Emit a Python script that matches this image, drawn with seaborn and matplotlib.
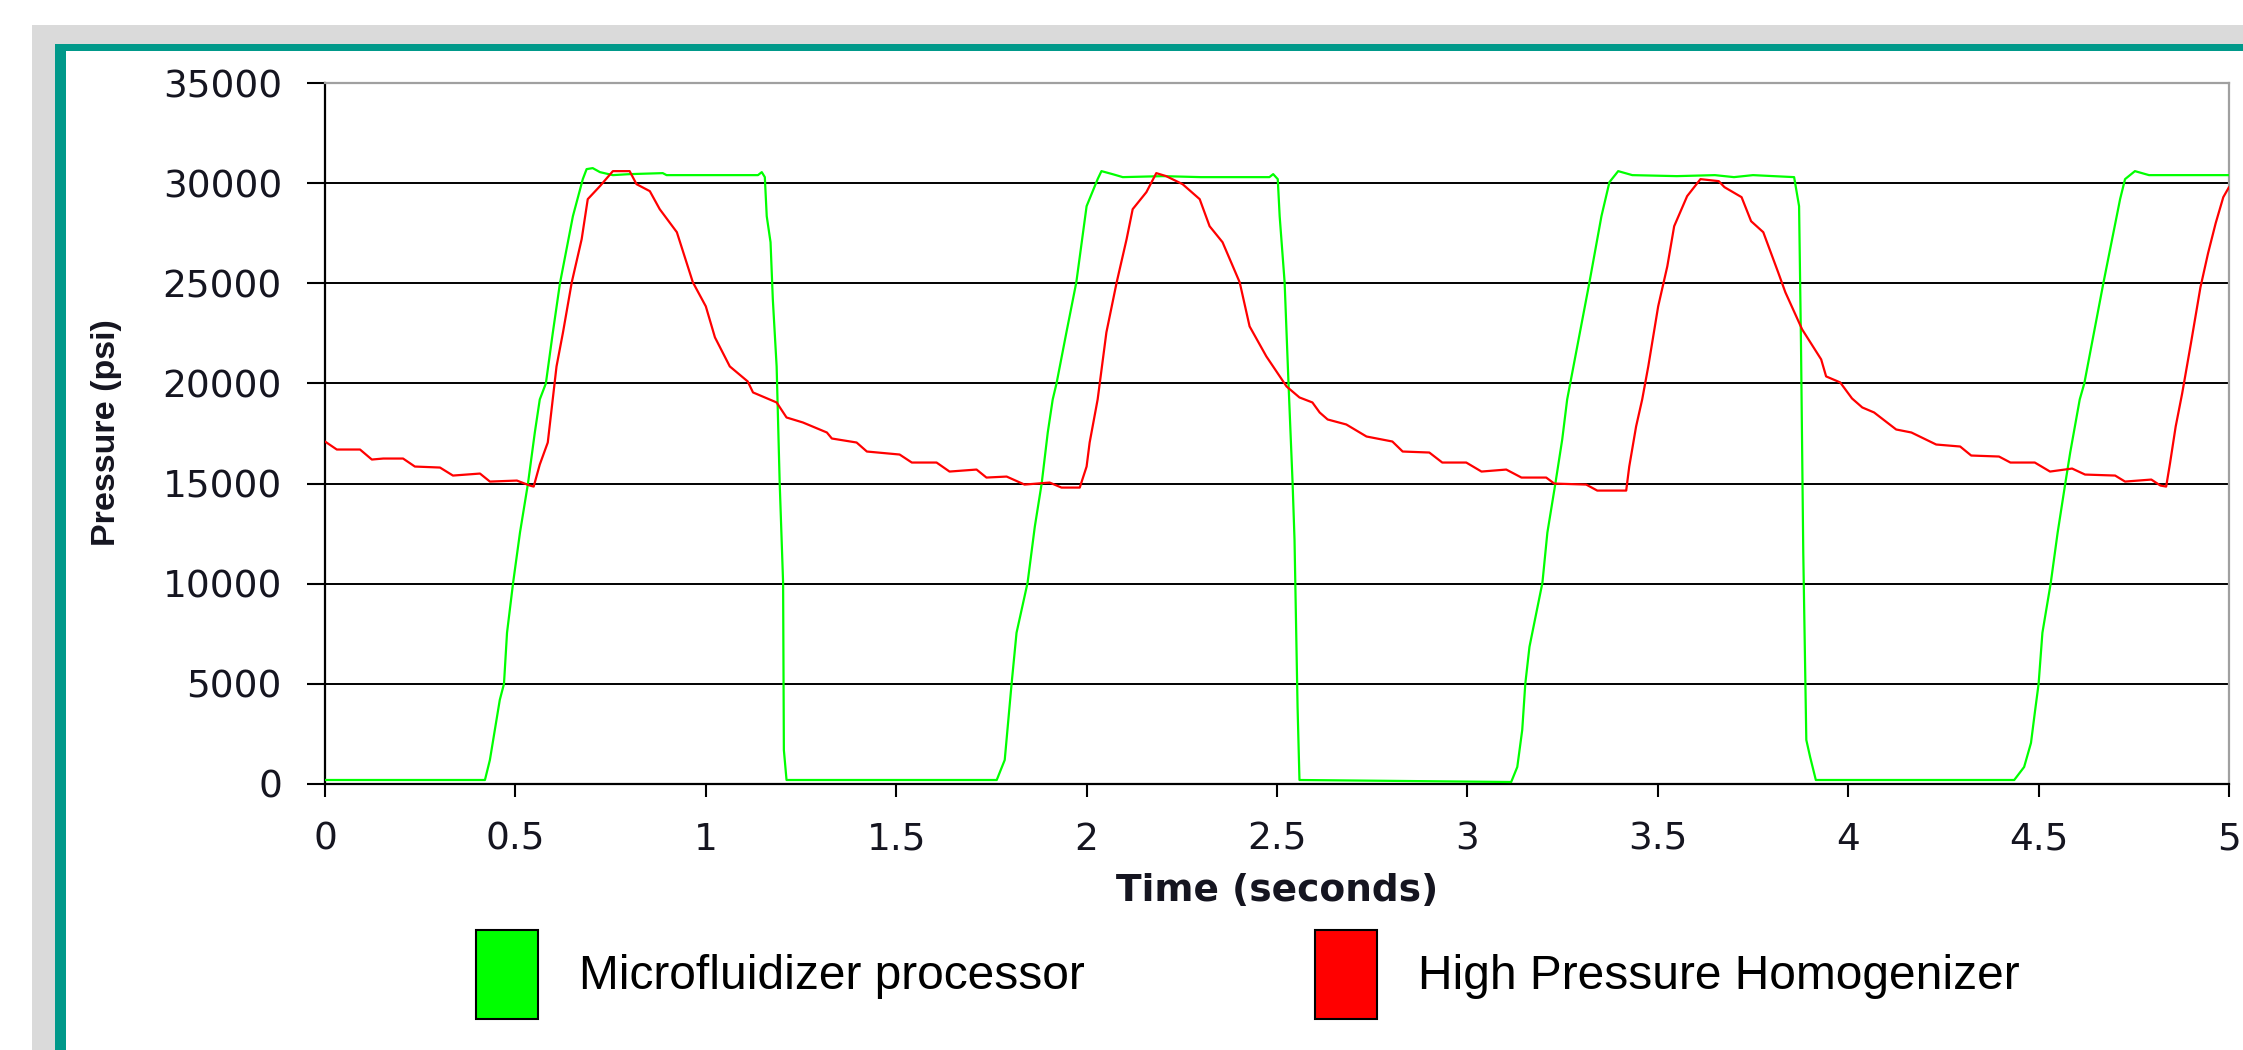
import matplotlib
matplotlib.use("Agg")
import matplotlib.pyplot as plt
import seaborn as sns
from matplotlib.patches import Rectangle, Patch

sns.set_style("white")
plt.rcParams["font.family"] = ["DejaVu Sans"]
plt.rcParams["text.color"] = "black"

# Microfluidizer processor trace (time s, pressure psi)
micro_t = [0.00, 0.42, 0.433, 0.459, 0.47, 0.478, 0.494, 0.512, 0.533, 0.551, 0.564, 0.58,
           0.598, 0.617, 0.651, 0.677, 0.687, 0.703, 0.722, 0.756, 0.80, 0.887, 0.897, 1.137,
           1.147, 1.155, 1.16, 1.17, 1.176, 1.186, 1.194, 1.203, 1.205, 1.212, 1.764, 1.785,
           1.803, 1.816, 1.845, 1.864, 1.882, 1.898, 1.911, 1.921, 1.947, 1.973, 2.0, 2.029,
           2.039, 2.068, 2.095, 2.2, 2.3, 2.48, 2.49, 2.502, 2.507, 2.52, 2.53, 2.541, 2.546,
           2.554, 2.559, 3.115, 3.131, 3.144, 3.152, 3.163, 3.197, 3.21, 3.231, 3.249, 3.262,
           3.27, 3.32, 3.352, 3.373, 3.396, 3.433, 3.55, 3.65, 3.70, 3.75, 3.858, 3.871, 3.876,
           3.882, 3.89, 3.90, 3.915, 4.436, 4.462, 4.48, 4.49, 4.50, 4.51, 4.532, 4.55, 4.57,
           4.583, 4.608, 4.62, 4.67, 4.714, 4.727, 4.753, 4.79, 5.0]
micro_p = [200, 200, 1200, 4200, 5000, 7550, 10050, 12550, 15000, 17550, 19200, 20000,
           22500, 25000, 28350, 30200, 30700, 30750, 30550, 30400, 30450, 30500, 30400, 30400,
           30550, 30300, 28350, 27050, 24200, 20850, 15050, 10050, 1700, 200, 200, 1200,
           5000, 7550, 10050, 12850, 15000, 17550, 19200, 20000, 22550, 25050, 28850, 30200,
           30600, 30450, 30300, 30350, 30300, 30300, 30450, 30200, 28350, 25050, 20100, 15000, 12200,
           3850, 200, 100, 850, 2700, 5000, 6850, 10050, 12550, 15000, 17200, 19200,
           20000, 25000, 28350, 30050, 30600, 30400, 30350, 30400, 30300, 30400, 30300, 28850, 22000,
           11550, 2200, 1350, 200, 200, 850, 2050, 3550, 5000, 7550, 10050, 12550, 15000,
           16550, 19200, 20000, 25000, 29200, 30200, 30600, 30400, 30400]

# High Pressure Homogenizer trace (time s, pressure psi)
hph_t = [0.0, 0.031, 0.092, 0.123, 0.153, 0.205, 0.236, 0.302, 0.336, 0.407, 0.433, 0.504,
         0.538, 0.548, 0.564, 0.585, 0.598, 0.608, 0.625, 0.648, 0.674, 0.69, 0.722, 0.756,
         0.80, 0.818, 0.853, 0.879, 0.924, 0.966, 1.0, 1.024, 1.063, 1.11, 1.124, 1.186,
         1.212, 1.255, 1.318, 1.331, 1.396, 1.423, 1.509, 1.541, 1.606, 1.64, 1.711, 1.737,
         1.79, 1.837, 1.903, 1.934, 1.982, 2.0, 2.008, 2.029, 2.052, 2.079, 2.105, 2.121,
         2.157, 2.183, 2.209, 2.252, 2.297, 2.323, 2.357, 2.402, 2.428, 2.472, 2.525, 2.559,
         2.593, 2.612, 2.633, 2.682, 2.735, 2.803, 2.83, 2.9, 2.934, 2.997, 3.037, 3.102,
         3.142, 3.207, 3.228, 3.312, 3.341, 3.417, 3.425, 3.443, 3.459, 3.475, 3.501, 3.525,
         3.543, 3.577, 3.612, 3.66, 3.675, 3.72, 3.745, 3.777, 3.816, 3.835, 3.879, 3.929,
         3.942, 3.979, 4.01, 4.037, 4.068, 4.126, 4.166, 4.231, 4.294, 4.323, 4.396, 4.426,
         4.49, 4.53, 4.588, 4.622, 4.701, 4.727, 4.796, 4.82, 4.835, 4.845, 4.86, 4.877,
         4.90, 4.925, 4.945, 4.965, 4.985, 5.0]
hph_p = [17100, 16700, 16700, 16200, 16250, 16250, 15850, 15800, 15400, 15500, 15100, 15150,
         14900, 14850, 15950, 17050, 19200, 20850, 22550, 25050, 27200, 29200, 29850, 30600,
         30600, 29950, 29600, 28700, 27550, 25050, 23850, 22300, 20850, 20100, 19550, 19050,
         18300, 18050, 17550, 17250, 17050, 16600, 16450, 16050, 16050, 15600, 15700, 15300,
         15350, 14950, 15050, 14800, 14800, 15850, 17050, 19200, 22550, 25050, 27200, 28700,
         29550, 30500, 30350, 29950, 29200, 27850, 27050, 25050, 22850, 21350, 19850, 19300,
         19050, 18550, 18200, 17950, 17350, 17100, 16600, 16550, 16050, 16050, 15600, 15700,
         15300, 15300, 15000, 14950, 14650, 14650, 15850, 17850, 19200, 20850, 23850, 25850,
         27850, 29350, 30200, 30100, 29800, 29300, 28100, 27550, 25550, 24550, 22700, 21200,
         20350, 20050, 19250, 18800, 18550, 17700, 17550, 16950, 16850, 16400, 16350, 16050,
         16050, 15600, 15750, 15450, 15400, 15100, 15200, 14900, 14850, 16000, 17850, 19500,
         22000, 24800, 26500, 28000, 29300, 29800]

x_ticks = [0, 0.5, 1, 1.5, 2, 2.5, 3, 3.5, 4, 4.5, 5]
x_tick_labels = ["0", "0.5", "1", "1.5", "2", "2.5", "3", "3.5", "4", "4.5", "5"]
y_ticks = [0, 5000, 10000, 15000, 20000, 25000, 30000, 35000]
series_names = ["Microfluidizer processor", "High Pressure Homogenizer"]
series_colors = ["#00FF00", "#FF0000"]

W, H = 2243, 1050
fig = plt.figure(figsize=(W / 100, H / 100), dpi=100)
fig.patch.set_facecolor("white")

# slide frame: grey band, teal rule, white panel
fig.patches.append(Rectangle((32 / W, 0), 1, 1 - 25 / H, transform=fig.transFigure,
                             facecolor="#DADADA", edgecolor="none", zorder=-3))
fig.patches.append(Rectangle((55 / W, 0), 1, 1 - 44 / H, transform=fig.transFigure,
                             facecolor="#00998A", edgecolor="none", zorder=-2))
fig.patches.append(Rectangle((65.5 / W, 0), 1, 1 - 50.5 / H, transform=fig.transFigure,
                             facecolor="white", edgecolor="none", zorder=-1))

ax = fig.add_axes([325 / W, 1 - 784 / H, 1904 / W, 701 / H])
ax.set_zorder(2)
ax.set_facecolor("white")

sns.lineplot(x=micro_t, y=micro_p, color=series_colors[0], lw=1.6,
             estimator=None, sort=False, legend=False, ax=ax, zorder=3)
sns.lineplot(x=hph_t, y=hph_p, color=series_colors[1], lw=1.6,
             estimator=None, sort=False, legend=False, ax=ax, zorder=3)

ax.set_xlim(0, 5)
ax.set_ylim(0, 35000)
ax.set_xticks(x_ticks)
ax.set_xticklabels(x_tick_labels)
ax.set_yticks(y_ticks)
ax.set_yticklabels([str(v) for v in y_ticks])
ax.set_xlabel("")
ax.set_ylabel("")

ax.yaxis.grid(True, color="black", lw=1.4, zorder=1)
ax.xaxis.grid(False)
ax.get_ygridlines()[-1].set_visible(False)
ax.get_ygridlines()[0].set_visible(False)

for side in ["left", "bottom"]:
    ax.spines[side].set_color("black")
    ax.spines[side].set_linewidth(1.6)
for side in ["top", "right"]:
    ax.spines[side].set_color("#A0A0A0")
    ax.spines[side].set_linewidth(1.6)

ax.tick_params(axis="y", direction="out", length=13, width=1.5, pad=18,
               labelsize=27, colors="black", left=True)
ax.tick_params(axis="x", direction="out", length=9, width=1.5, pad=18,
               labelsize=27, colors="black", bottom=True)
for lab in ax.get_xticklabels() + ax.get_yticklabels():
    lab.set_color("#151520")

fig.text(1277 / W, 1 - 891 / H, "Time (seconds)", ha="center", va="center",
         fontsize=27, fontweight="bold", color="#151520")
fig.text(106 / W, 1 - 433 / H, "Pressure (psi)", ha="center", va="center",
         rotation=90, fontsize=24.5, fontweight="bold", color="#151520",
         family="Liberation Sans")

handles = [Patch(facecolor=c, edgecolor="black", lw=1.5, label=n)
           for c, n in zip(series_colors, series_names)]
fig.legend(handles=handles, loc="upper left", bbox_to_anchor=(476 / W, 1 - 930 / H),
           ncol=2, frameon=False, prop={"family": "Liberation Sans", "size": 34.5},
           labelcolor="black", handlelength=1.3, handleheight=2.48, handletextpad=0.85,
           columnspacing=4.8, borderpad=0, borderaxespad=0)

fig.savefig("out.png", dpi=100)
